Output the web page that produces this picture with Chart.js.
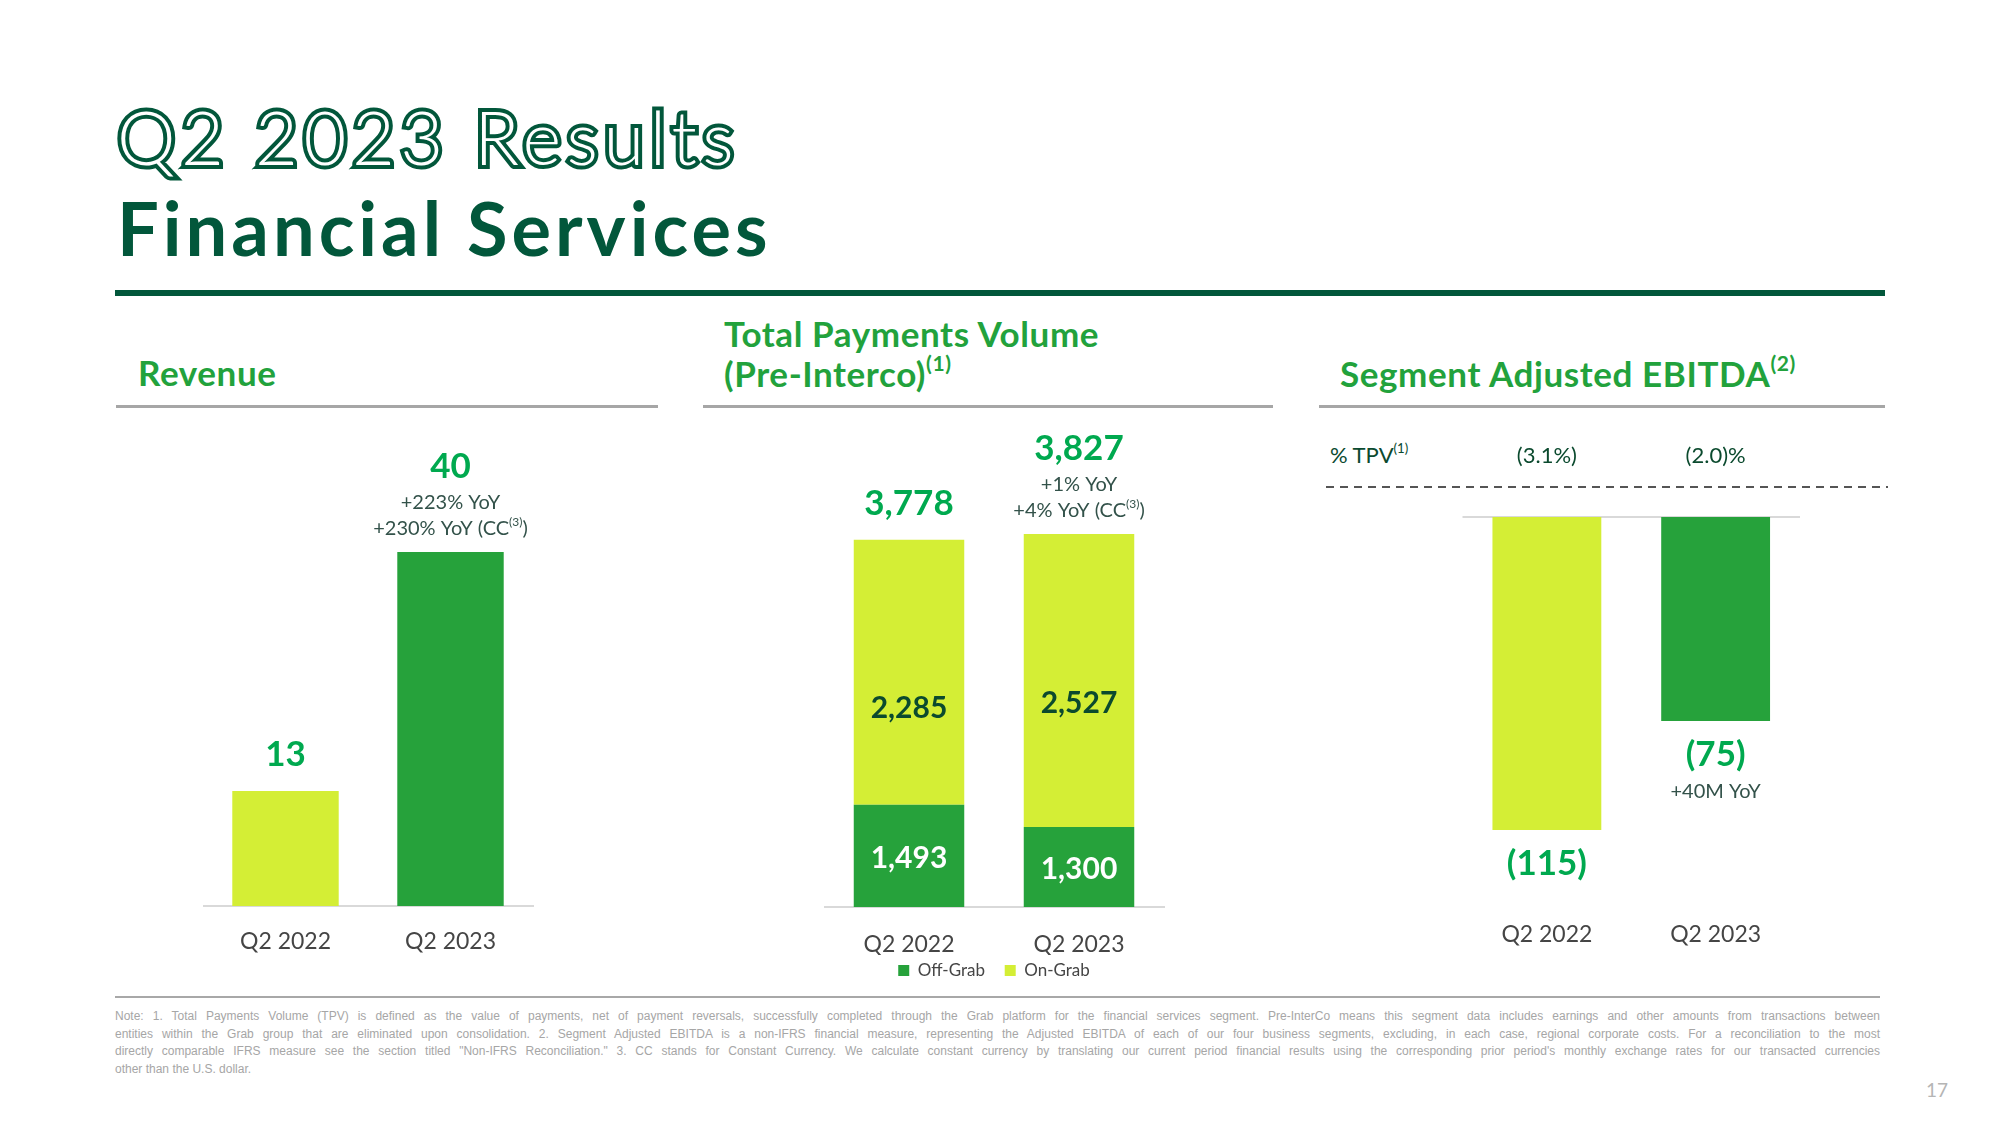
<!DOCTYPE html>
<html>
<head>
<meta charset="utf-8">
<title>Q2 2023 Results - Financial Services</title>
<script src="https://cdn.jsdelivr.net/npm/chart.js@4.4.0/dist/chart.umd.min.js"></script>
<style>
body { margin: 0; background: #fff; font-family: Lato, sans-serif; }
#page { position: relative; width: 2000px; height: 1125px; overflow: hidden; background: #fff; }
.abs { position: absolute; white-space: nowrap; }
.big { left: 117px; font-size: 74px; line-height: 74px; }
.outline { top: 100px; font-weight: 300; letter-spacing: 5.5px; color: #02573b; -webkit-text-stroke: 8px #02573b; }
.core { top: 100px; font-weight: 300; letter-spacing: 5.5px; color: #fff; }
.fin { top: 191px; font-weight: 700; letter-spacing: 4px; color: #02573b; }
.rule { position: absolute; background: #02573b; }
.sect { font-size: 35px; font-weight: 700; color: #22a23c; line-height: 39.5px; letter-spacing: 0.6px; }
.grey { position: absolute; height: 3px; background: #a6a6a6; }
sup { font-size: 0.6em; vertical-align: 0; position: relative; top: -0.75em; }
.note { left: 115px; width: 1765px; font-family: "Liberation Sans", Arial, sans-serif; font-size: 12px; line-height: 17.5px; color: #a6a6a6; text-align: justify; text-align-last: justify; }
canvas { position: absolute; }
</style>
</head>
<body>
<div id="page">
  <div class="abs big outline">Q2 2023 Results</div>
  <div class="abs big core">Q2 2023 Results</div>
  <div class="abs big fin">Financial Services</div>
  <div class="rule" style="left:115px; top:290px; width:1770px; height:6px;"></div>

  <div class="abs sect" style="left:138px; top:353px;">Revenue</div>
  <div class="grey" style="left:116px; top:405px; width:542px;"></div>

  <div class="abs sect" style="left:724px; top:314px;">Total Payments Volume<br>(Pre-Interco)<sup>(1)</sup></div>
  <div class="grey" style="left:703px; top:405px; width:570px;"></div>

  <div class="abs sect" style="left:1340px; top:354px;">Segment Adjusted EBITDA<sup>(2)</sup></div>
  <div class="grey" style="left:1319px; top:405px; width:566px;"></div>

  <div class="abs" style="left:1330px; top:444px; font-size:22px; line-height:22px; color:#0b4a30;">% TPV<sup>(1)</sup></div>
  <div class="abs" style="left:1326px; top:486px; width:562px; height:2px; background:repeating-linear-gradient(to right, #555 0 8px, transparent 8px 14px);"></div>

  <canvas id="revenueChart" width="350" height="546" style="left:203px; top:420px;"></canvas>
  <canvas id="tpvChart" width="345" height="600" style="left:824px; top:389px;"></canvas>
  <canvas id="ebitdaChart" width="380" height="528" style="left:1440px; top:430px;"></canvas>

  <div class="rule" style="left:115px; top:996px; width:1765px; height:2px; background:#a8a8a8;"></div>
  <div class="abs note" style="top:1008px;">Note: 1. Total Payments Volume (TPV) is defined as the value of payments, net of payment reversals, successfully completed through the Grab platform for the financial services segment. Pre-InterCo means this segment data includes earnings and other amounts from transactions between</div>
  <div class="abs note" style="top:1025.5px;">entities within the Grab group that are eliminated upon consolidation. 2. Segment Adjusted EBITDA is a non-IFRS financial measure, representing the Adjusted EBITDA of each of our four business segments, excluding, in each case, regional corporate costs. For a reconciliation to the most</div>
  <div class="abs note" style="top:1043px;">directly comparable IFRS measure see the section titled "Non-IFRS Reconciliation." 3. CC stands for Constant Currency. We calculate constant currency by translating our current period financial results using the corresponding prior period's monthly exchange rates for our transacted currencies</div>
  <div class="abs note" style="top:1060.5px; text-align-last:left;">other than the U.S. dollar.</div>
  <div class="abs" style="left:1926px; top:1080px; font-size:19px; line-height:20px; color:#b5b5b5;">17</div>
</div>

<script>
// data (US$ millions)
var categories = ['Q2 2022', 'Q2 2023'];

var revenue = [13, 40];
var revenueNotes = [[], ['+223% YoY', '+230% YoY (CC^(3)^)']];

var tpvOffGrab = [1493, 1300];
var tpvOnGrab = [2285, 2527];
var tpvTotal = [3778, 3827];
var tpvNotes = [[], ['+1% YoY', '+4% YoY (CC^(3)^)']];

var ebitda = [-115, -75];
var ebitdaNotes = [[], ['+40M YoY']];
var ebitdaPctTpv = ['(3.1%)', '(2.0)%'];

var lime = '#d4ee35';
var green = '#26a23b';
var labelGreen = '#00a94f';
var noteColor = '#33524a';
var darkText = '#0b4a2e';

Chart.defaults.font.family = 'Lato';
Chart.defaults.animation = false;

function fmt(v) {
    var s = Math.abs(v).toLocaleString('en-US');
    return v < 0 ? '(' + s + ')' : s;
}

// centred text, parts between ^ ^ are drawn as superscript
function drawText(ctx, text, x, y, size, weight, color) {
    var parts = String(text).split('^');
    var small = Math.round(size * 0.6);
    var widths = [], w = 0;
    parts.forEach(function(p, i) {
	ctx.font = weight + ' ' + (i % 2 ? small : size) + 'px Lato';
	widths[i] = ctx.measureText(p).width;
	w += widths[i];
    });
    var cx = x - w / 2;
    ctx.fillStyle = color;
    ctx.textAlign = 'left';
    ctx.textBaseline = 'middle';
    parts.forEach(function(p, i) {
	ctx.font = weight + ' ' + (i % 2 ? small : size) + 'px Lato';
	ctx.fillText(p, cx, i % 2 ? y - size * 0.32 : y);
	cx += widths[i];
    });
}

function endLabels(values, notes, datasetIndex) {
    return {
	id: 'endLabels',
	afterDatasetsDraw: function(chart) {
	    var ctx = chart.ctx;
	    var meta = chart.getDatasetMeta(datasetIndex);
	    ctx.save();
	    meta.data.forEach(function(bar, i) {
		var list = notes[i] || [];
		var n = list.length;
		if (values[i] >= 0) {
		    list.forEach(function(t, k) {
			drawText(ctx, t, bar.x, bar.y - 23.5 - 25.5 * (n - 1 - k), 20, 400, noteColor);
		    });
		    var yv = n ? bar.y - 23.5 - 25.5 * (n - 1) - 36 : bar.y - 36;
		    drawText(ctx, fmt(values[i]), bar.x, yv, 35, 700, labelGreen);
		} else {
		    var yb = bar.y + 34;
		    drawText(ctx, fmt(values[i]), bar.x, yb, 35, 700, labelGreen);
		    list.forEach(function(t, k) {
			drawText(ctx, t, bar.x, yb + 36 + 25.5 * k, 20, 400, noteColor);
		    });
		}
	    });
	    ctx.restore();
	}
    };
}

var innerLabels = {
    id: 'innerLabels',
    afterDatasetsDraw: function(chart) {
	var ctx = chart.ctx;
	var area = chart.chartArea;
	ctx.save();
	chart.data.datasets.forEach(function(ds, d) {
	    chart.getDatasetMeta(d).data.forEach(function(bar, i) {
		var base = Math.min(bar.base, area.bottom);
		// on-grab figures sit a fixed distance below the bar top, off-grab ones mid-segment
		var y = d === 1 ? bar.y + 169 : (bar.y + base) / 2 + 2;
		drawText(ctx, fmt(ds.data[i]), bar.x, y, 30, 700, d === 1 ? darkText : '#ffffff');
	    });
	});
	ctx.restore();
    }
};

var zeroLine = {
    id: 'zeroLine',
    beforeDatasetsDraw: function(chart) {
	var ctx = chart.ctx;
	var y = chart.scales.y.getPixelForValue(0);
	ctx.save();
	ctx.strokeStyle = '#d9d9d9';
	ctx.lineWidth = 2;
	ctx.beginPath();
	ctx.moveTo(chart.chartArea.left, y);
	ctx.lineTo(chart.chartArea.right, y);
	ctx.stroke();
	ctx.restore();
    }
};

var pctRow = {
    id: 'pctRow',
    afterDatasetsDraw: function(chart) {
	var ctx = chart.ctx;
	ctx.save();
	chart.getDatasetMeta(0).data.forEach(function(bar, i) {
	    drawText(ctx, ebitdaPctTpv[i], bar.x, chart.chartArea.top - 61, 22, 400, darkText);
	});
	ctx.restore();
    }
};

function xAxis(height, pad, border) {
    return {
	grid: { display: false, drawTicks: false },
	border: { display: border, color: '#d9d9d9', width: 2 },
	ticks: { padding: pad, color: '#454545', font: { size: 23 } },
	afterFit: function(scale) { scale.height = height; }
    };
}

new Chart(document.getElementById('revenueChart'), {
    type: 'bar',
    data: {
	labels: categories,
	datasets: [{
	    data: revenue,
	    backgroundColor: [lime, green],
	    barPercentage: 0.645,
	    categoryPercentage: 1
	}]
    },
    options: {
	responsive: false,
	devicePixelRatio: 1,
	layout: { padding: { top: 43.5, right: 20, left: 0, bottom: 0 } },
	plugins: { legend: { display: false }, tooltip: { enabled: false } },
	scales: {
	    x: xAxis(60, 22, true),
	    y: { display: false, min: 0, max: 50 }
	}
    },
    plugins: [endLabels(revenue, revenueNotes, 0)]
});

new Chart(document.getElementById('tpvChart'), {
    type: 'bar',
    data: {
	labels: categories,
	datasets: [{
	    label: 'Off-Grab',
	    data: tpvOffGrab,
	    backgroundColor: green,
	    barPercentage: 0.65,
	    categoryPercentage: 1
	}, {
	    label: 'On-Grab',
	    data: tpvOnGrab,
	    backgroundColor: lime,
	    barPercentage: 0.65,
	    categoryPercentage: 1
	}]
    },
    options: {
	responsive: false,
	devicePixelRatio: 1,
	layout: { padding: { top: 9, right: 5, left: 0, bottom: 0 } },
	plugins: {
	    legend: {
		position: 'bottom',
		labels: {
		    boxWidth: 11, boxHeight: 11, padding: 7, color: '#454545', font: { size: 17 },
		    generateLabels: function(chart) {
			var items = Chart.defaults.plugins.legend.labels.generateLabels(chart);
			items[0].text += '\u2003';
			return items;
		    }
		}
	    },
	    tooltip: { enabled: false }
	},
	scales: {
	    x: Object.assign(xAxis(48, 24, true), { stacked: true }),
	    y: { display: false, stacked: true, min: 611, max: 5000 }
	}
    },
    plugins: [innerLabels, endLabels(tpvTotal, tpvNotes, 1)]
});

new Chart(document.getElementById('ebitdaChart'), {
    type: 'bar',
    data: {
	labels: categories,
	datasets: [{
	    data: ebitda,
	    backgroundColor: [lime, green],
	    barPercentage: 0.645,
	    categoryPercentage: 1
	}]
    },
    options: {
	responsive: false,
	devicePixelRatio: 1,
	layout: { padding: { top: 87, right: 20, left: 22.5, bottom: 0 } },
	plugins: { legend: { display: false }, tooltip: { enabled: false } },
	scales: {
	    x: xAxis(60, 23, false),
	    y: { display: false, min: -140, max: 0 }
	}
    },
    plugins: [zeroLine, pctRow, endLabels(ebitda, ebitdaNotes, 0)]
});
</script>
</body>
</html>
